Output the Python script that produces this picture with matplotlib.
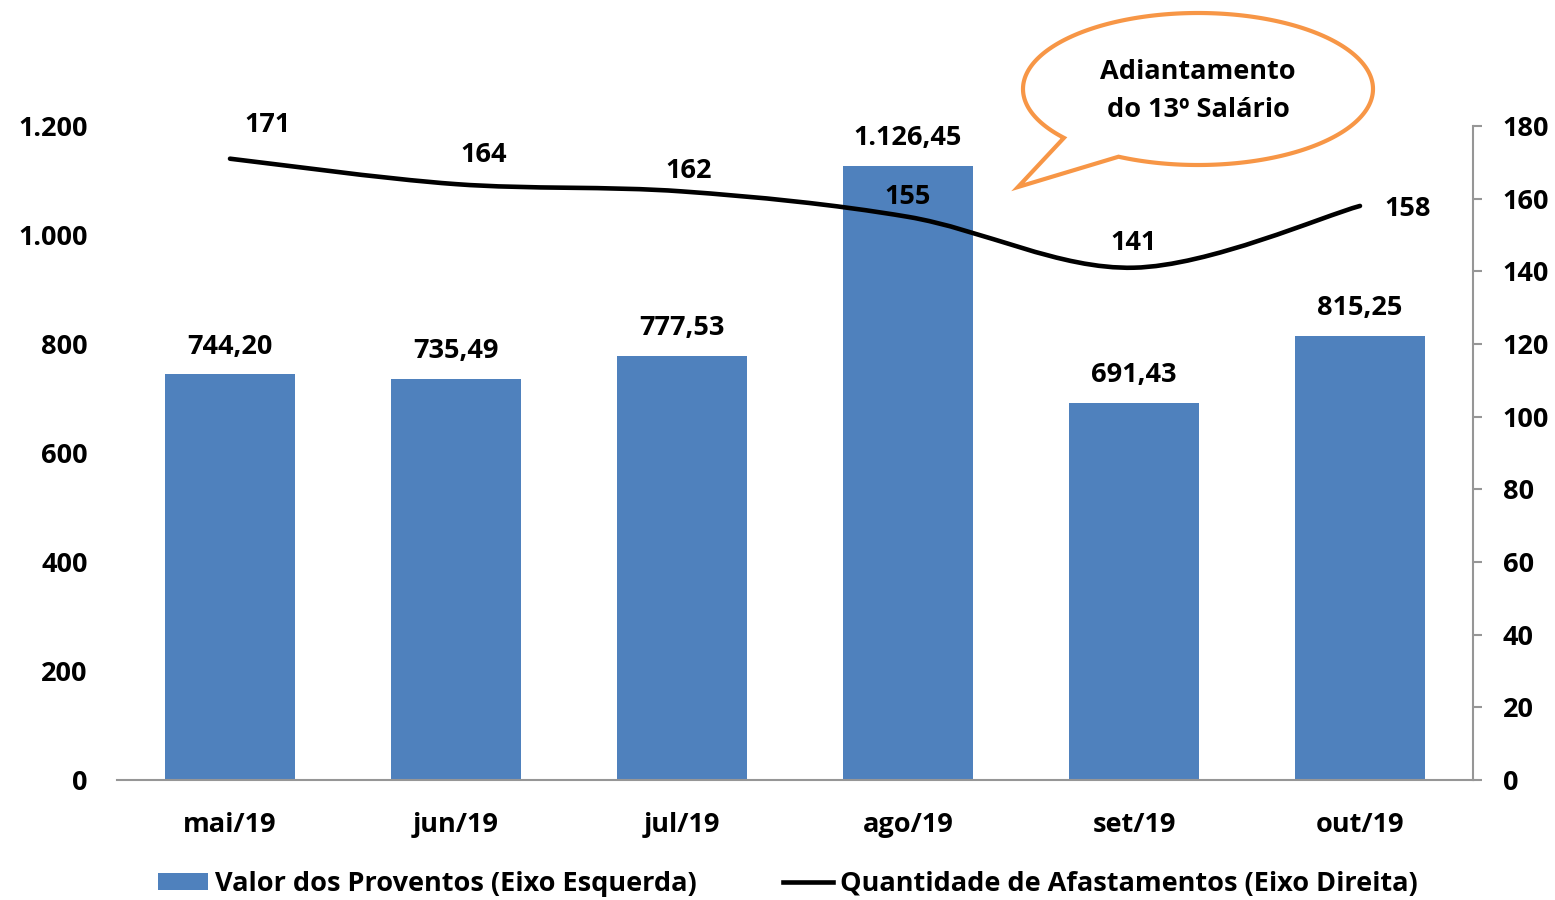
#!/usr/bin/env python3
import numpy
import matplotlib
matplotlib.use("Agg")
import matplotlib.pyplot as plt
from matplotlib.path import Path
from matplotlib.patches import PathPatch, Patch
from matplotlib.lines import Line2D

# chart data
meses = ['mai/19', 'jun/19', 'jul/19', 'ago/19', 'set/19', 'out/19']
proventos = [744.20, 735.49, 777.53, 1126.45, 691.43, 815.25]
afastamentos = [171, 164, 162, 155, 141, 158]
ticksEsquerda = [0, 200, 400, 600, 800, 1000, 1200]
ticksDireita = [0, 20, 40, 60, 80, 100, 120, 140, 160, 180]
nomeBarras = 'Valor dos Proventos (Eixo Esquerda)'
nomeLinha = 'Quantidade de Afastamentos (Eixo Direita)'
textoBalao = 'Adiantamento\ndo 13º Salário'

# label offsets for the line values (points)
offsetsLinha = [(27, 24), (20, 21), (5, 15), (0, 14), (0, 18), (34, -2)]

W, H = 1555, 900 # figure size in pixels
corBarra = '#4F81BD'
corBalao = '#F79646'
fs = 19.5

plt.rcParams['font.family'] = ['Open Sans', 'DejaVu Sans']
plt.rcParams['font.weight'] = 'bold'


def fmtBR(v, casas=0):
  # brazilian number format: 1.126,45
  s = f"{v:,.{casas}f}"
  return s.replace(',', 'X').replace('.', ',').replace('X', '.')


def smoothPath(xs, ys):
  # excel-like smoothed line: cubic bezier with catmull-rom control points
  pts = numpy.column_stack([xs, ys]).astype(float)
  n = len(pts)
  verts = [pts[0]]
  codes = [Path.MOVETO]
  for i in range(n - 1):
    p0 = pts[max(i - 1, 0)]
    p1 = pts[i]
    p2 = pts[i + 1]
    p3 = pts[min(i + 2, n - 1)]
    c1 = p1 + (p2 - p0) / 6.0
    c2 = p2 - (p3 - p1) / 6.0
    verts += [c1, c2, p2]
    codes += [Path.CURVE4] * 3
  return Path(verts, codes)


def balao(cx, cy, a, b, tip, t1, t2):
  # speech bubble outline in pixel coords (y down), returned in figure fraction
  pts = []
  for t in numpy.linspace(0, 360, 361):
    if t1 < t < t2:
      continue
    if abs(t - t2) < 0.5:
      pts.append(tip)
    r = numpy.radians(t)
    pts.append((cx + a * numpy.cos(r), cy + b * numpy.sin(r)))
  pts = numpy.array(pts, dtype=float)
  pts[:, 0] = pts[:, 0] / W
  pts[:, 1] = (H - pts[:, 1]) / H
  return Path(numpy.vstack([pts, pts[:1]]), closed=True)


def main():
  fig = plt.figure(figsize=(W / 100, H / 100), dpi=100)
  ax = fig.add_axes([117 / W, 120 / H, 1356 / W, 654 / H])
  x = numpy.arange(len(meses))

  # bars on the left axis
  ax.bar(x, proventos, width=0.575, color=corBarra, zorder=2)
  ax.set_xlim(-0.5, len(meses) - 0.5)
  ax.set_ylim(0, 1200)
  ax.set_yticks(ticksEsquerda)
  ax.set_yticklabels([fmtBR(t) for t in ticksEsquerda])
  ax.set_xticks(x)
  ax.set_xticklabels(meses)
  ax.tick_params(axis='y', length=0, pad=21, labelsize=fs)
  ax.tick_params(axis='x', length=0, pad=23, labelsize=fs)
  for s in ['left', 'top', 'right']:
    ax.spines[s].set_visible(False)
  ax.spines['bottom'].set_color('#969696')
  ax.spines['bottom'].set_linewidth(1.5)

  for xi, v in zip(x, proventos):
    ax.annotate(fmtBR(v, 2), (xi, v), xytext=(0, 20), textcoords='offset points',
                ha='center', va='center', fontsize=fs, fontweight='bold')

  # line on the right axis
  ax2 = ax.twinx()
  ax2.set_ylim(0, 180)
  ax2.set_yticks(ticksDireita)
  ax2.tick_params(axis='y', direction='out', length=6.5, width=1.5, color='#969696',
                  pad=15, labelsize=fs)
  for s in ['left', 'top', 'bottom']:
    ax2.spines[s].set_visible(False)
  ax2.spines['right'].set_color('#969696')
  ax2.spines['right'].set_linewidth(1.5)
  ax2.add_patch(PathPatch(smoothPath(x, afastamentos), facecolor='none',
                          edgecolor='black', linewidth=3.3, capstyle='round', zorder=3))
  for xi, v, off in zip(x, afastamentos, offsetsLinha):
    ax2.annotate(str(v), (xi, v), xytext=off, textcoords='offset points',
                 ha='center', va='center', fontsize=fs, fontweight='bold', zorder=4)

  # speech bubble
  p = balao(1198, 89, 175, 76, (1018, 187), 117, 140)
  fig.add_artist(PathPatch(p, transform=fig.transFigure, facecolor='white',
                           edgecolor=corBalao, linewidth=3, zorder=5))
  fig.text(1198 / W, 1 - 91 / H, textoBalao, ha='center', va='center', fontsize=fs,
           fontweight='bold', linespacing=1.62, zorder=6)

  # legend
  handles = [Patch(facecolor=corBarra, edgecolor='none'),
             Line2D([0], [0], color='black', linewidth=3.3)]
  fig.legend(handles, [nomeBarras, nomeLinha], loc='center', bbox_to_anchor=(788 / W, 16 / H),
             ncol=2, frameon=False, fontsize=fs, handlelength=1.85, handleheight=0.62,
             handletextpad=0.25, columnspacing=3.2, borderaxespad=0, borderpad=0)

  fig.savefig('out.png', dpi=100)


if __name__ == "__main__":
  main()
